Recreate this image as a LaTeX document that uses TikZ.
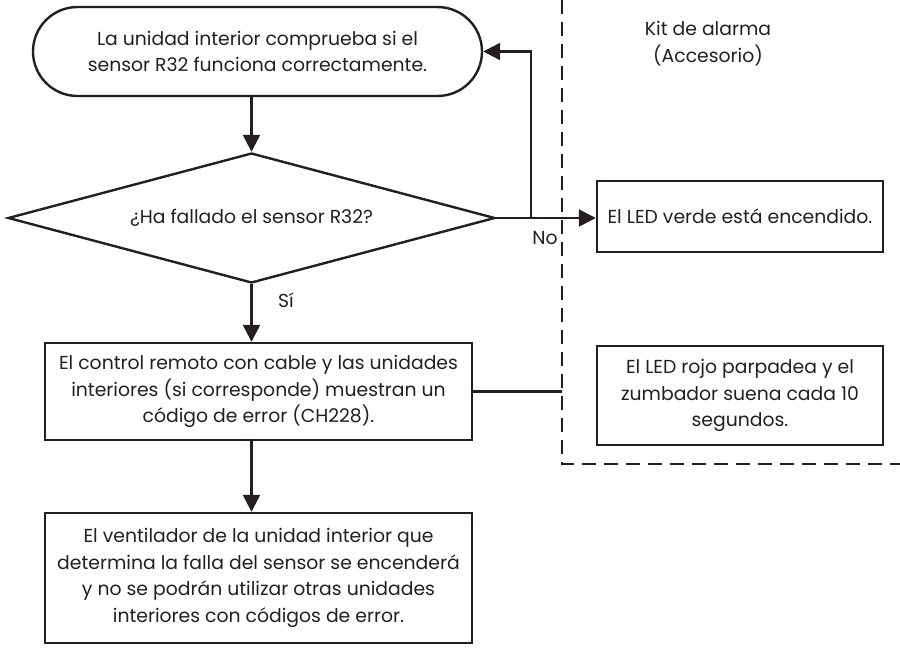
\documentclass[tikz,border=0pt]{standalone}
\usepackage{fontspec}
\setmainfont{Poppins}
\usetikzlibrary{arrows.meta,positioning,shapes.geometric,shapes.misc}
\definecolor{ink}{RGB}{35,31,32}
\tikzset{
  >={Triangle[length=17pt,width=17pt]},
  box/.style={draw=ink,line width=2.4pt,rectangle,align=center,inner sep=0pt,
    font=\fontsize{18.8}{26.5}\selectfont,text=ink},
  term/.style={box,rounded rectangle},
  decision/.style={box,diamond,aspect=3.6},
  flow/.style={->,line width=2.4pt,draw=ink},
  link/.style={line width=2.4pt,draw=ink},
  tag/.style={font=\fontsize{18.8}{27}\selectfont,text=ink,align=center},
  kitline/.style={line width=2.2pt,draw=ink,dash pattern=on 14pt off 8pt},
}

\begin{document}
\begin{tikzpicture}[x=1pt,y=1pt]
    \useasboundingbox (0,0) rectangle (900,-648);
    % main flow
    \node[term,minimum width=449pt,minimum height=89pt] (check) at (257.5,-51.5) {La unidad interior comprueba si el\\sensor R32 funciona correctamente.};
    \node[decision,minimum width=487pt,minimum height=130pt] (fail) at (251.5,-218) {¿Ha fallado el sensor R32?};
    \node[box,minimum width=427pt,minimum height=97pt] (err) at (258.5,-391.5) {El control remoto con cable y las unidades\\interiores (si corresponde) muestran un\\código de error (CH228).};
    \node[box,minimum width=427pt,minimum height=130pt] (fan) at (258.5,-578) {El ventilador de la unidad interior que\\determina la falla del sensor se encenderá\\y no se podrán utilizar otras unidades\\interiores con códigos de error.};
    % alarm kit
    \node[box,minimum width=286pt,minimum height=71pt] (green) at (740,-216.5) {El LED verde está encendido.};
    \node[box,minimum width=286pt,minimum height=99pt] (red) at (740,-395.5) {El LED rojo parpadea y el\\zumbador suena cada 10\\segundos.};
    \node[tag] (kit) at (708,-44) {Kit de alarma\\(Accesorio)};
    \coordinate (kittop) at (562,0);
    \coordinate (kitcorner) at (562,-464);
    \coordinate (kitend) at (900,-464);
    \draw[kitline] (kittop) -- (kitcorner) -- (kitend);
    % connectors
    \coordinate (loop) at (531,-218);
    \draw[flow] (check.south -| fail.north) -- (fail.north);
    \draw[flow] (fail.east) -- (fail.east -| green.west);
    \draw[flow] (loop) |- (check.east);
    \draw[flow] (fail.south) -- (fail.south |- err.north);
    \draw[flow] (err.south -| fail.south) -- (fan.north -| fail.south);
    \draw[link] (err.east) -- (err.east -| kittop);
    \node[tag] (no) at (545,-238) {No};
    \node[tag] (yes) at (286,-300) {Sí};
\end{tikzpicture}
\end{document}
